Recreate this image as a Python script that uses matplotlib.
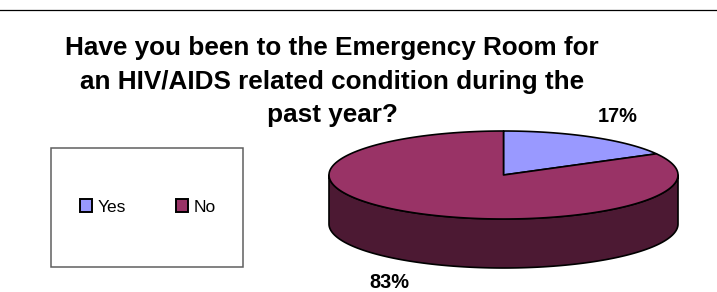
import numpy as np
import matplotlib
matplotlib.use("Agg")
import matplotlib.pyplot as plt
from matplotlib.patches import Polygon, Rectangle, Patch

plt.rcParams['font.family'] = ['Liberation Sans', 'DejaVu Sans']

# data
labels = ['Yes', 'No']
values = [17, 83]
pct_labels = ['17%', '83%']
colors = ['#9999FF', '#993366']
side_colors = ['#4C4C80', '#4C1933']
title_lines = ['Have you been to the Emergency Room for',
               'an HIV/AIDS related condition during the',
               'past year?']

W, H = 717, 292
fig = plt.figure(figsize=(W / 100, H / 100), dpi=100)
ax = fig.add_axes([0, 0, 1, 1])
ax.set_xlim(0, W)
ax.set_ylim(H, 0)
ax.axis('off')

# top border line
ax.plot([0, W], [10, 10], color='black', lw=0.9)

# title
for i, line in enumerate(title_lines):
    ax.text(332, 55 + i * 33.5, line, ha='center', va='baseline',
            fontsize=18.8, fontweight='bold')

# 3d pie geometry
cx, cy, rx, ry, depth = 503.5, 175, 174.5, 44, 49


def pt(t):
    t = np.radians(t)
    return cx + rx * np.cos(t), cy - ry * np.sin(t)


fracs = np.array(values) / np.sum(values)
start = 90.0
slices = []
for f in fracs:
    t1 = start
    t0 = start - f * 360
    slices.append((t0, t1))
    start = t0

# sides (front half: t in [-180, 0])
for (t0, t1), sc in zip(slices, side_colors):
    for shift in (0, 360, -360):
        a = max(t0 + shift, -180)
        b = min(t1 + shift, 0)
        if b <= a:
            continue
        ts = np.linspace(a, b, 200)
        xs, ys = pt(ts)
        poly = np.vstack([np.column_stack([xs, ys]),
                          np.column_stack([xs[::-1], ys[::-1] + depth])])
        ax.add_patch(Polygon(poly, closed=True, facecolor=sc,
                             edgecolor='black', lw=1.2, joinstyle='round'))

# tops
for (t0, t1), c in zip(slices, colors):
    ts = np.linspace(t0, t1, 300)
    xs, ys = pt(ts)
    poly = np.vstack([[cx, cy], np.column_stack([xs, ys])])
    ax.add_patch(Polygon(poly, closed=True, facecolor=c,
                         edgecolor='black', lw=1.2, joinstyle='round'))

# percent labels
for (t0, t1), lab in zip(slices, pct_labels):
    m = np.radians((t0 + t1) / 2)
    lx = cx + 1.28 * rx * np.cos(m)
    ly = cy - 1.55 * ry * np.sin(m)
    if np.sin(m) < 0:
        ly += depth
    ax.text(lx, ly, lab, ha='center', va='center',
            fontsize=14.4, fontweight='bold')

# legend box
ax.add_patch(Rectangle((51, 148), 192, 119, facecolor='white',
                       edgecolor='#5f5f5f', lw=1.1))
handles = [Patch(facecolor=c, edgecolor='black', lw=1.4) for c in colors]
ax.legend(handles, labels, loc='center', bbox_to_anchor=(148, 207),
          bbox_transform=ax.transData, ncol=2, frameon=False,
          fontsize=12.5, handlelength=0.7, handleheight=0.7,
          handletextpad=0.3, columnspacing=2.9, borderpad=0)

fig.savefig('out.png', dpi=100)
